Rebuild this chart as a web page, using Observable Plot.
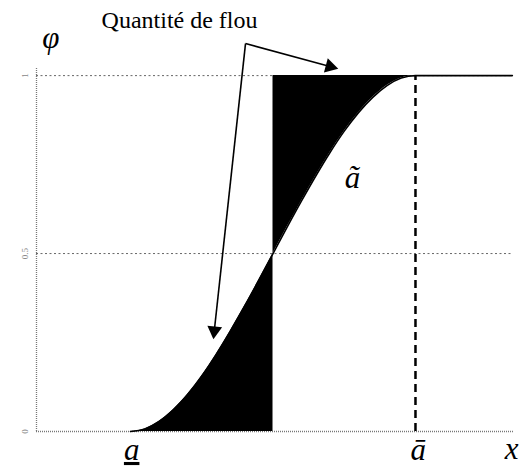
<!DOCTYPE html>
<html>
<head>
<meta charset="utf-8">
<script src="https://cdn.jsdelivr.net/npm/d3@7"></script>
<script src="https://cdn.jsdelivr.net/npm/@observablehq/plot@0.6"></script>
<style>
  html, body { margin: 0; padding: 0; background: #fff; }
  #chart { width: 523px; height: 466px; }
  #chart svg text { font-family: "Liberation Serif", "Times New Roman", "DejaVu Serif", serif !important; }
</style>
</head>
<body>
<div id="chart"></div>
<script>
// Membership curve of the fuzzy number ã (x: a = 0, ā = 1)
const curveX = [0, 0.05, 0.1, 0.15, 0.2, 0.25, 0.3, 0.35, 0.4, 0.45, 0.5, 0.55, 0.6, 0.65, 0.7, 0.75, 0.8, 0.85, 0.9, 0.95, 1, 1.34];
const curveY = [0, 0.007, 0.028, 0.061, 0.104, 0.156, 0.216, 0.282, 0.352, 0.425, 0.5, 0.575, 0.648, 0.718, 0.784, 0.844, 0.896, 0.939, 0.972, 0.993, 1, 1];
const aLow = 0;      // a (underlined)
const aMid = 0.5;    // crossing point
const aHigh = 1;     // ā (overlined)
const tickValues = [0, 0.5, 1];
const tickLabels = ["0", "0.5", "1"];
const xDomain = [-0.33, 1.344];
const yDomain = [0, 1.02];

// Annotation: "Quantité de flou" with two arrows
const titleText = ["Quantité de flou"];
const titleX = [0.172];
const titleY = [1.133];
const arrowFromX = [0.4035, 0.4035];
const arrowFromY = [1.09, 1.09];
const arrowToX = [0.294, 0.700];
const arrowToY = [0.283, 1.0256];
const arrowAngle = [186, 105];

// Italic math labels
const labelText = ["φ", "ã", "a", "ā", "x"];
const labelX = [-0.28, 0.779, 0.004, 1.01, 1.337];
const labelY = [1.077, 0.685, -0.08, -0.08, -0.078];

const serif = "Liberation Serif";

const curve = curveX.map((x, i) => ({x, y: curveY[i]}));
const lower = curve.filter(d => d.x >= aLow && d.x <= aMid);
const upper = curve.filter(d => d.x >= aMid && d.x <= aHigh);
const arrows = arrowFromX.map((x, i) => ({x1: x, y1: arrowFromY[i], x2: arrowToX[i], y2: arrowToY[i], r: arrowAngle[i]}));
const labels = labelText.map((t, i) => ({t, x: labelX[i], y: labelY[i]}));
const titles = titleText.map((t, i) => ({t, x: titleX[i], y: titleY[i]}));
const ticks = tickValues.map((v, i) => ({v, t: tickLabels[i]}));

const plot = Plot.plot({
  width: 523,
  height: 466,
  marginLeft: 36,
  marginRight: 10,
  marginTop: 68,
  marginBottom: 35,
  x: {domain: xDomain, axis: null},
  y: {domain: yDomain, axis: null},
  style: {background: "#fff", overflow: "visible"},
  marks: [
    Plot.ruleY([0.5, 1], {stroke: "#666", strokeWidth: 1, strokeDasharray: "2,2.5"}),
    Plot.ruleY([0], {stroke: "#777", strokeWidth: 1.3, strokeDasharray: "1,1"}),
    Plot.ruleX([xDomain[0]], {stroke: "#777", strokeWidth: 1.3, strokeDasharray: "1,1"}),
    Plot.areaY(lower, {x: "x", y: "y", fill: "black", curve: "monotone-x"}),
    Plot.areaY(upper, {x: "x", y1: "y", y2: () => 1, fill: "black", curve: "monotone-x"}),
    Plot.line(curve, {x: "x", y: "y", stroke: "black", strokeWidth: 1.6, curve: "monotone-x"}),
    Plot.ruleX([aHigh], {y1: 0, y2: 1, stroke: "black", strokeWidth: 2.5, strokeDasharray: "8,5"}),
    Plot.link(arrows, {x1: "x1", y1: "y1", x2: "x2", y2: "y2", stroke: "black", strokeWidth: 1.6}),
    Plot.dot(arrows, {x: "x2", y: "y2", symbol: "triangle", r: 5.5, fill: "black", stroke: "none", rotate: "r"}),
    Plot.text(ticks, {x: () => xDomain[0], y: "v", text: "t", rotate: -90, dx: -11, fontSize: 9, fontFamily: serif, fill: "#888"}),
    Plot.text(titles, {x: "x", y: "y", text: "t", fontSize: 24, fontFamily: serif, fill: "black", lineAnchor: "bottom"}),
    Plot.text(labels, {x: "x", y: "y", text: "t", fontSize: 31, fontFamily: serif, fontStyle: "italic", fill: "black", lineAnchor: "bottom"})
  ]
});
document.getElementById("chart").appendChild(plot);
d3.select(plot).selectAll("text").each(function() {
  this.style.fontFamily = "'Liberation Serif', serif";
  if (this.textContent === "a") this.setAttribute("text-decoration", "underline");
});
</script>
</body>
</html>
